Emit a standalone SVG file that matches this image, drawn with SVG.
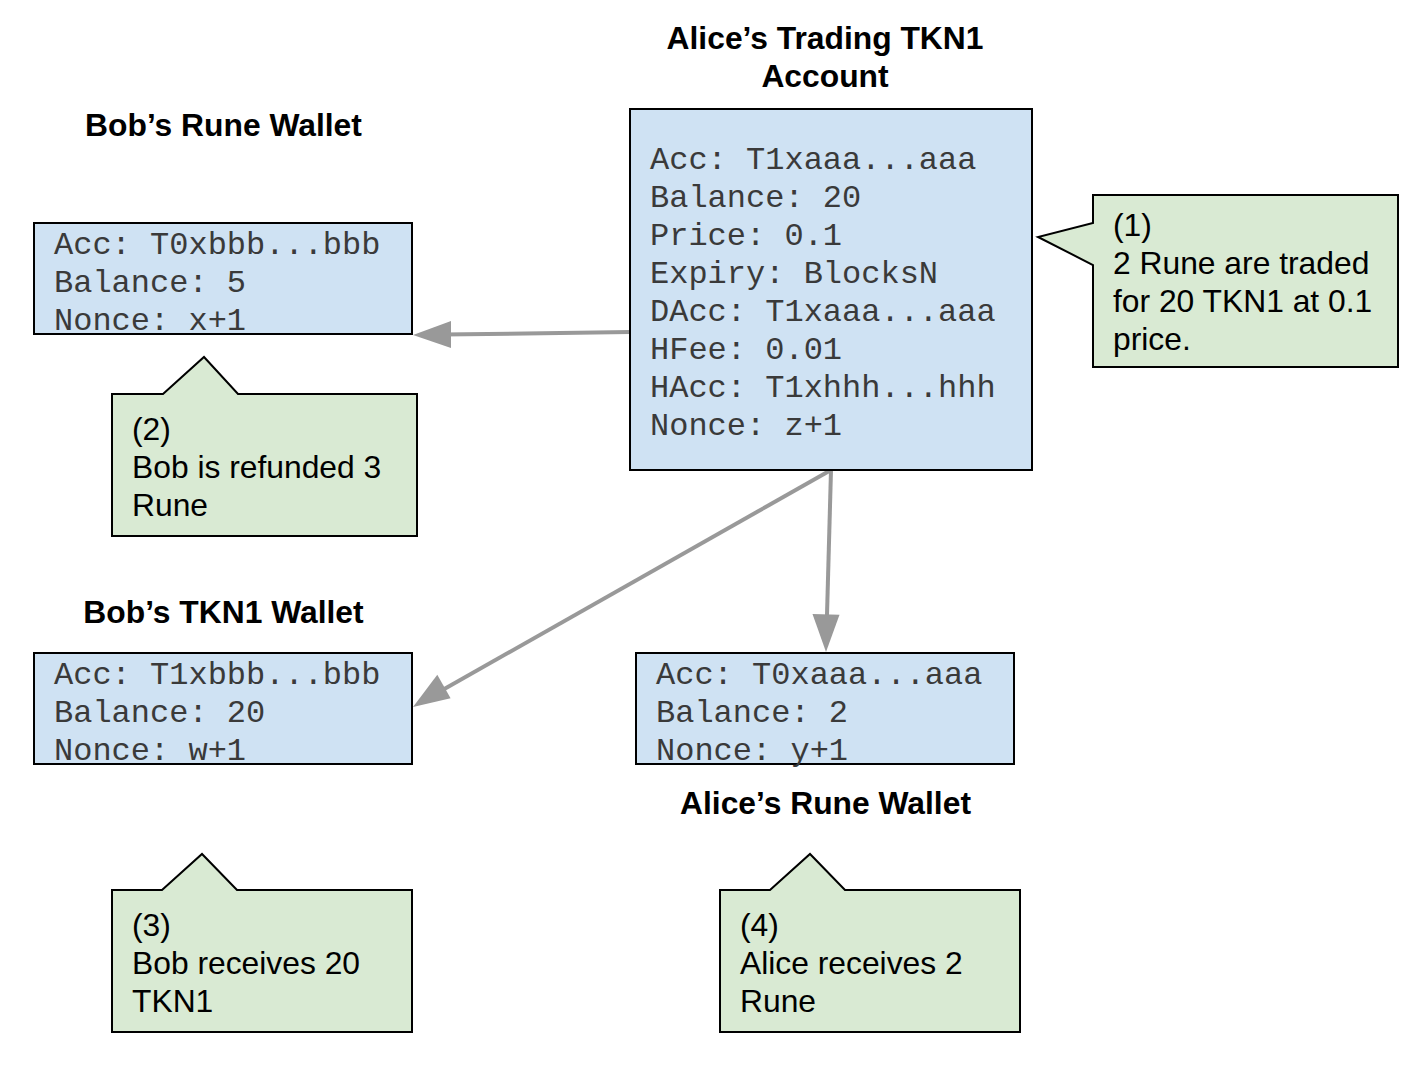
<svg xmlns="http://www.w3.org/2000/svg" width="1410" height="1066" viewBox="0 0 1410 1066">
<style>
.title{font-family:"Liberation Sans",Arial,sans-serif;font-size:31.8px;font-weight:bold;fill:#000;text-anchor:middle}
.mono{font-family:"Liberation Mono","Courier New",monospace;font-size:32px;fill:#3a3a3a}
.note{font-family:"Liberation Sans",Arial,sans-serif;font-size:31.8px;fill:#000}
.acct{fill:#cfe2f3;stroke:#000;stroke-width:2}
.call{fill:#d9ead3;stroke:#000;stroke-width:2;stroke-linejoin:miter}
.conn{stroke:#999999;stroke-width:4;fill:none}
.head{fill:#999999;stroke:none}
</style>
<rect width="1410" height="1066" fill="#fff"/>

<g id="connectors">
<line class="conn" x1="630" y1="332" x2="443" y2="334.6"/>
<polygon class="head" points="413,335 451,321 451,348"/>
<line class="conn" x1="831" y1="470" x2="439" y2="692"/>
<polygon class="head" points="413,707 437.3,674.8 450.6,698.3"/>
<line class="conn" x1="831" y1="470" x2="826.8" y2="622"/>
<polygon class="head" points="826,652 812.5,614 839.5,614.7"/>
</g>

<g id="alice-trading">
<text class="title" x="825" y="49">Alice’s Trading TKN1</text>
<text class="title" x="825" y="87">Account</text>
<rect class="acct" x="630" y="109" width="402" height="361"/>
<text class="mono" x="650" y="169">Acc: T1xaaa...aaa</text>
<text class="mono" x="650" y="207">Balance: 20</text>
<text class="mono" x="650" y="245">Price: 0.1</text>
<text class="mono" x="650" y="283">Expiry: BlocksN</text>
<text class="mono" x="650" y="321">DAcc: T1xaaa...aaa</text>
<text class="mono" x="650" y="359">HFee: 0.01</text>
<text class="mono" x="650" y="397">HAcc: T1xhhh...hhh</text>
<text class="mono" x="650" y="435">Nonce: z+1</text>
</g>

<g id="bob-rune">
<text class="title" x="223.5" y="136">Bob’s Rune Wallet</text>
<rect class="acct" x="34" y="223" width="378" height="111"/>
<text class="mono" x="54" y="254">Acc: T0xbbb...bbb</text>
<text class="mono" x="54" y="292">Balance: 5</text>
<text class="mono" x="54" y="330">Nonce: x+1</text>
</g>

<g id="bob-tkn1">
<text class="title" x="223.5" y="623">Bob’s TKN1 Wallet</text>
<rect class="acct" x="34" y="653" width="378" height="111"/>
<text class="mono" x="54" y="684">Acc: T1xbbb...bbb</text>
<text class="mono" x="54" y="722">Balance: 20</text>
<text class="mono" x="54" y="760">Nonce: w+1</text>
</g>

<g id="alice-rune">
<rect class="acct" x="636" y="653" width="378" height="111"/>
<text class="mono" x="656" y="684">Acc: T0xaaa...aaa</text>
<text class="mono" x="656" y="722">Balance: 2</text>
<text class="mono" x="656" y="760">Nonce: y+1</text>
<text class="title" x="825.5" y="814">Alice’s Rune Wallet</text>
</g>

<g id="note1">
<path class="call" d="M1093,195 H1398 V367 H1093 V265 L1038,237 L1093,223 Z"/>
<text class="note" x="1113" y="236">(1)</text>
<text class="note" x="1113" y="274">2 Rune are traded</text>
<text class="note" x="1113" y="312">for 20 TKN1 at 0.1</text>
<text class="note" x="1113" y="350">price.</text>
</g>

<g id="note2">
<path class="call" d="M112,394 H163 L204,357 L238,394 H417 V536 H112 Z"/>
<text class="note" x="132" y="440">(2)</text>
<text class="note" x="132" y="478">Bob is refunded 3</text>
<text class="note" x="132" y="516">Rune</text>
</g>

<g id="note3">
<path class="call" d="M112,890 H162 L202,854 L237,890 H412 V1032 H112 Z"/>
<text class="note" x="132" y="936">(3)</text>
<text class="note" x="132" y="974">Bob receives 20</text>
<text class="note" x="132" y="1012">TKN1</text>
</g>

<g id="note4">
<path class="call" d="M720,890 H770 L810,854 L845,890 H1020 V1032 H720 Z"/>
<text class="note" x="740" y="936">(4)</text>
<text class="note" x="740" y="974">Alice receives 2</text>
<text class="note" x="740" y="1012">Rune</text>
</g>
</svg>
